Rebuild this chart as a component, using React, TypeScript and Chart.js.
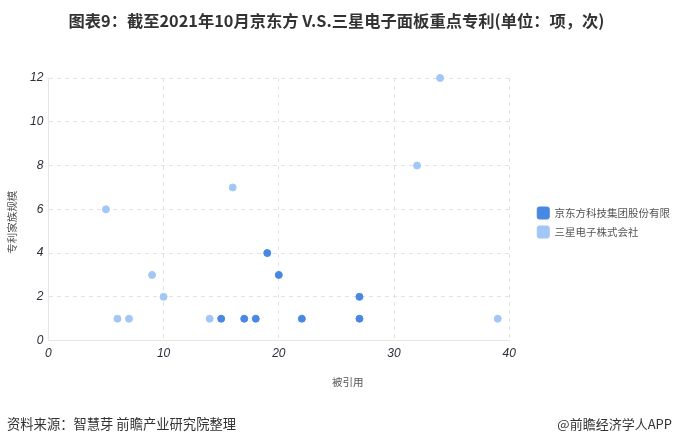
import React, { useEffect, useRef } from "react";
import { Chart, registerables } from "chart.js";

Chart.register(...registerables);

const boeLabel = "京东方科技集团股份有限";
const samsungLabel = "三星电子株式会社";
const boeX = [15, 17, 18, 19, 20, 22, 27, 27];
const boeY = [1, 1, 1, 4, 3, 1, 2, 1];
const samsungX = [5, 6, 7, 9, 10, 14, 16, 32, 34, 39];
const samsungY = [6, 1, 1, 3, 2, 1, 7, 8, 12, 1];
const xTicks = [0, 10, 20, 30, 40];
const yTicks = [0, 2, 4, 6, 8, 10, 12];

const titleText = "图表9：截至2021年10月京东方 V.S.三星电子面板重点专利(单位：项，次)";
const xTitle = "被引用";
const yTitle = "专利家族规模";
const sourceText = "资料来源：智慧芽 前瞻产业研究院整理";
const brandText = "@前瞻经济学人APP";

const CJK = '"Noto Sans CJK SC", "Noto Sans", sans-serif';

export default function App() {
  const ref = useRef<HTMLCanvasElement | null>(null);
  useEffect(() => {
    document.body.style.margin = "0";
    const axisTitles = {
      id: "axisTitles",
      afterDraw(chart: any) {
        const ctx = chart.ctx;
        const a = chart.chartArea;
        ctx.save();
        ctx.font = `10.5px ${CJK}`;
        ctx.fillStyle = "#555";
        ctx.textAlign = "center";
        ctx.textBaseline = "middle";
        ctx.fillText(xTitle, (a.left + a.right) / 2 + 69, a.bottom + 41);
        ctx.translate(12, (a.top + a.bottom) / 2 + 13);
        ctx.rotate(-Math.PI / 2);
        ctx.fillText(yTitle, 0, 0);
        ctx.restore();
      },
    };
    const tickFont = { family: "Liberation Sans", style: "italic" as const, size: 12 };
    const chart = new Chart(ref.current!, {
      type: "scatter",
      data: {
        datasets: [
          {
            label: boeLabel,
            data: boeX.map((x, i) => ({ x, y: boeY[i] })),
            backgroundColor: "#4a87e3",
            borderColor: "#4a87e3",
            pointRadius: 3.5,
            clip: false,
          },
          {
            label: samsungLabel,
            data: samsungX.map((x, i) => ({ x, y: samsungY[i] })),
            backgroundColor: "#a2c6f6",
            borderColor: "#a2c6f6",
            pointRadius: 3.5,
            clip: false,
          },
        ],
      },
      options: {
        animation: false,
        responsive: false,
        layout: { padding: { left: 25, right: -7, top: 78, bottom: 77 } },
        plugins: {
          legend: {
            position: "right",
            maxWidth: 150,
            labels: {
              boxWidth: 12,
              boxHeight: 12,
              useBorderRadius: true,
              borderRadius: 2,
              color: "#555",
              font: { family: CJK, size: 10.5 },
              padding: 7,
            },
          },
          tooltip: { enabled: false },
        },
        scales: {
          x: {
            type: "linear",
            min: 0,
            max: 40,
            afterBuildTicks: (s: any) => {
              s.ticks = xTicks.map((v) => ({ value: v }));
            },
            grid: { color: "#e3e3e3", drawTicks: false },
            border: { color: "#e6e6e6", dash: [4, 4] },
            ticks: { color: "#2a2f3a", padding: 6, font: tickFont },
          },
          y: {
            type: "linear",
            min: 0,
            max: 12,
            afterBuildTicks: (s: any) => {
              s.ticks = yTicks.map((v) => ({ value: v }));
            },
            grid: { color: "#e3e3e3", drawTicks: false },
            border: { color: "#e6e6e6", dash: [4, 4] },
            ticks: { color: "#2a2f3a", padding: 5, font: tickFont },
          },
          gap: {
            type: "linear",
            position: "right",
            display: true,
            grid: { display: false },
            border: { display: false },
            ticks: { display: false },
            afterFit: (s: any) => {
              s.width = 21;
            },
          },
        },
      },
      plugins: [axisTitles],
    } as any);
    return () => chart.destroy();
  }, []);

  return (
    <div style={{ position: "relative", width: 673, height: 444, background: "#fff", overflow: "hidden" }}>
      <canvas ref={ref} width={673} height={444} style={{ position: "absolute", left: 0, top: 0 }} />
      <div
        style={{
          position: "absolute",
          left: 0,
          top: 8,
          width: 673,
          textAlign: "center",
          fontFamily: CJK,
          fontWeight: 700,
          fontSize: 16.3,
          color: "#333",
          whiteSpace: "nowrap",
        }}
      >
        {titleText}
      </div>
      <div style={{ position: "absolute", left: 7, top: 414, fontFamily: CJK, fontSize: 13.3, color: "#333" }}>
        {sourceText}
      </div>
      <div style={{ position: "absolute", right: 1, top: 414, fontFamily: CJK, fontSize: 13, color: "#333" }}>
        {brandText}
      </div>
    </div>
  );
}
